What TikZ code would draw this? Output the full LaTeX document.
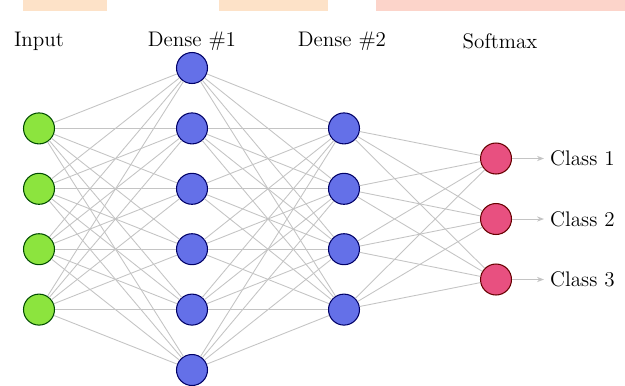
\documentclass[tikz,border=0pt]{standalone}
\usetikzlibrary{arrows.meta}
\definecolor{inputcol}{RGB}{140,228,62}
\definecolor{densecol}{RGB}{100,112,232}
\definecolor{outcol}{RGB}{232,80,128}
\definecolor{wirecol}{RGB}{196,196,196}
\definecolor{bandA}{RGB}{253,226,200}
\definecolor{bandB}{RGB}{252,212,202}
\tikzset{
  neuron/.style={circle,draw,line width=0.6pt,minimum size=0.62cm,inner sep=0pt},
  wire/.style={wirecol,line width=0.5pt},
  layername/.style={font=\large}
}
\begin{document}
\begin{tikzpicture}
  \useasboundingbox (0,0) rectangle (12.5,-7.7);
  % draw top bands
  \fill[bandA] (0.46,0) rectangle (2.14,-0.22);
  \fill[bandA] (4.38,0) rectangle (6.56,-0.22);
  \fill[bandB] (7.52,0) rectangle (12.5,-0.22);
  % draw layer names
  \node at(0.78,-0.82)[layername](tin){Input};
  \node at(3.84,-0.82)[layername](tda){Dense \#1};
  \node at(6.84,-0.82)[layername](tdb){Dense \#2};
  \node at(10.0,-0.82)[layername](tout){Softmax};
  % draw input layer
  \foreach \i in {1,...,4}
    \node at(0.78,{-2.568-(\i-1)*1.208})[neuron,fill=inputcol,draw=black!70!green](in\i){};
  % draw first dense layer
  \foreach \i in {1,...,6}
    \node at(3.84,{-1.36-(\i-1)*1.208})[neuron,fill=densecol,draw=black!60!blue](da\i){};
  % draw second dense layer
  \foreach \i in {1,...,4}
    \node at(6.88,{-2.568-(\i-1)*1.208})[neuron,fill=densecol,draw=black!60!blue](db\i){};
  % draw softmax layer
  \foreach \i in {1,2,3}
    \node at(9.92,{-3.17-(\i-1)*1.21})[neuron,fill=outcol,draw=black!60!red](out\i){};
  % draw connections between layers
  \foreach \i in {1,...,4}
    \foreach \j in {1,...,6}
      \draw [wire](in\i) -- (da\j);
  \foreach \i in {1,...,6}
    \foreach \j in {1,...,4}
      \draw [wire](da\i) -- (db\j);
  \foreach \i in {1,...,4}
    \foreach \j in {1,2,3}
      \draw [wire](db\i) -- (out\j);
  % draw class labels and arrows
  \foreach \i in {1,2,3} {
    \node at(10.88,{-3.17-(\i-1)*1.21})[anchor=west,font=\large](cls\i){Class \i};
    \draw [wire,-{Stealth[length=4pt,width=3pt]}](out\i) -- (cls\i);
  }
\end{tikzpicture}
\end{document}
